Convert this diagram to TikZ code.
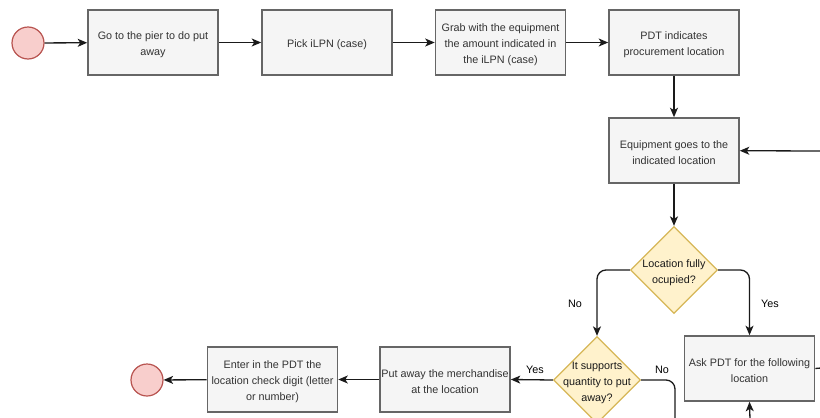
\documentclass[tikz,border=0pt]{standalone}
\usepackage{fontspec}
\setmainfont{Liberation Sans}
\usetikzlibrary{shapes.geometric,arrows.meta}
\definecolor{boxfill}{HTML}{F5F5F5}
\definecolor{boxline}{HTML}{666666}
\definecolor{boxtext}{HTML}{333333}
\definecolor{decfill}{HTML}{FFF2CC}
\definecolor{decline}{HTML}{D6B656}
\definecolor{termfill}{HTML}{F8CECC}
\definecolor{termline}{HTML}{B85450}
\definecolor{wire}{HTML}{1A1A1A}
\tikzset{
  every node/.style={font=\fontsize{10.8}{16}\selectfont},
  stepbox/.style={draw=boxline, fill=boxfill, line width=1.6pt,
    minimum width=130pt, minimum height=65pt, inner sep=0pt},
  steptext/.style={align=center, text=boxtext, inner sep=0pt, yshift=-2.5pt},
  decision/.style={diamond, draw=decline, fill=decfill, line width=1.3pt,
    minimum width=87pt, minimum height=87pt, inner sep=0pt},
  dtext/.style={align=center, text=black!90, inner sep=0pt, yshift=-2.5pt},
  term/.style={circle, draw=termline, fill=termfill, line width=1.2pt,
    minimum size=32pt, inner sep=0pt},
  flow/.style={draw=wire, line width=1.3pt, rounded corners=9pt,
    -{Stealth[length=9.5pt,width=8pt,inset=2.5pt]}},
  plainflow/.style={draw=wire, line width=1.3pt, rounded corners=9pt},
  lbl/.style={text=black, inner sep=0pt},
}
\begin{document}
\begin{tikzpicture}[x=1pt,y=-1pt]
\useasboundingbox (0,0) rectangle (820,418);

% top row
\node[term] (start) at (28,43) {};
\node[stepbox] (goPier) at (153,42.5) {};
\node[steptext] (goPierT) at (goPier) {Go to the pier to do put\\away};
\node[stepbox] (pick) at (327,42.5) {};
\node[steptext] (pickT) at (pick) {Pick iLPN (case)};
\node[stepbox] (grab) at (500.5,42.5) {};
\node[steptext] (grabT) at (grab) {Grab with the equipment\\the amount indicated in\\the iLPN (case)};
\node[stepbox] (pdtLoc) at (674,42.5) {};
\node[steptext] (pdtLocT) at (pdtLoc) {PDT indicates\\procurement location};

% middle column
\node[stepbox] (goLoc) at (674,150.5) {};
\node[steptext] (goLocT) at (goLoc) {Equipment goes to the\\indicated location};
\node[decision] (full) at (674,270) {};
\node[dtext] (fullT) at (full) {Location fully\\ocupied?};

% bottom row
\node[decision] (fits) at (597,380) {};
\node[dtext] (fitsT) at (fits) {It supports\\quantity to put\\away?};
\node[stepbox] (askNext) at (749.5,368.5) {};
\node[steptext] (askNextT) at (askNext) {Ask PDT for the following\\location};
\node[stepbox] (putAway) at (445,379.5) {};
\node[steptext] (putAwayT) at (putAway) {Put away the merchandise\\at the location};
\node[stepbox] (enterDigit) at (272.5,379.5) {};
\node[steptext] (enterDigitT) at (enterDigit) {Enter in the PDT the\\location check digit (letter\\or number)};
\node[term] (finish) at (147,380) {};

% loose ends running off the right and bottom edges
\coordinate (loopIn) at (821,151);
\coordinate (askOut) at (821,368);
\coordinate (noDown) at (675,420);
\coordinate (askIn) at (750,420);

% connectors
\draw[flow] (start) -- (goPier);
\draw[flow] (goPier) -- (pick);
\draw[flow] (pick) -- (grab);
\draw[flow] (grab) -- (pdtLoc);
\draw[flow] (pdtLoc) -- (goLoc);
\draw[flow] (loopIn) -- (goLoc);
\draw[flow] (goLoc) -- (full);
\draw[flow] (full.west) -| (fits.north);
\draw[flow] (full.east) -| (askNext.north);
\draw[flow] (fits.west) -- (putAway.east);
\draw[flow] (putAway) -- (enterDigit);
\draw[flow] (enterDigit) -- (finish);
\draw[plainflow] (fits.east) -| (noDown);
\draw[flow] (askIn) -- (askNext.south);
\draw[plainflow] (askNext.east) -- (askOut);

% branch labels
\node[lbl] (noLeft) at (575,304) {No};
\node[lbl] (yesRight) at (770,304) {Yes};
\node[lbl] (yesLeft) at (535,370) {Yes};
\node[lbl] (noRight) at (662,370) {No};
\end{tikzpicture}
\end{document}
